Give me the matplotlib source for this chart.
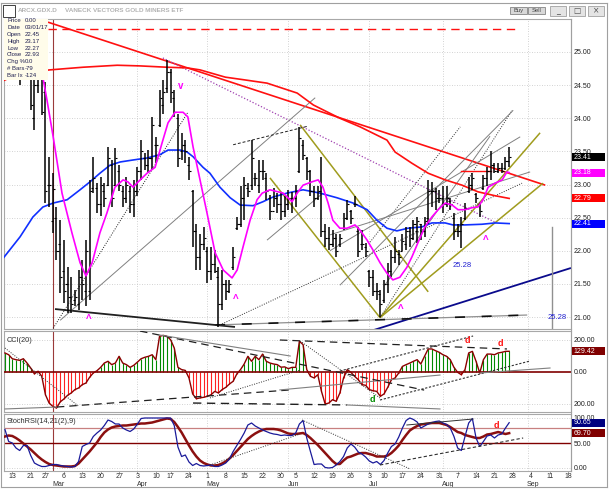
import numpy as np
import pandas as pd
import matplotlib
matplotlib.use('Agg')
import matplotlib.pyplot as plt
from matplotlib.patches import Rectangle
import matplotlib.transforms as mtransforms

plt.rcParams['font.family'] = ['Liberation Sans', 'DejaVu Sans']

# ---------------- data ----------------
holidays = ['2017-02-20', '2017-04-14', '2017-05-29', '2017-07-04']
first_bar = '2017-02-09'
last_bar = '2017-08-25'
axis_last = '2017-09-22'
ref_day = '2017-02-13'

high = [25.10, 25.20, 25.05, 24.95, 24.75, 24.90, 25.00, 24.85, 24.60, 24.80,
        24.90, 24.55, 23.42, 23.17, 22.66, 22.46, 22.16, 21.76, 21.61, 21.41,
        21.71, 21.86, 22.16, 23.07, 23.42, 23.02, 23.12, 23.02, 23.57, 23.37,
        23.55, 23.30, 22.97, 23.12, 22.97, 23.07, 23.27, 23.67, 23.47, 23.52,
        24.02, 23.72, 24.43, 24.58, 24.88, 24.75, 24.43, 24.07, 23.77, 23.67,
        23.42, 22.92, 22.41, 22.26, 22.36, 22.06, 22.06, 22.01, 21.76, 21.71,
        21.56, 21.56, 22.06, 22.51, 22.97, 23.12, 23.02, 23.67, 23.17, 23.37,
        23.37, 23.17, 22.84, 22.95, 22.87, 22.89, 22.82, 22.92, 22.89, 22.99,
        23.87, 23.67, 23.42, 23.22, 22.97, 22.97, 23.42, 22.41, 22.36, 22.31,
        22.26, 22.26, 22.57, 22.77, 22.62, 22.82, 22.36, 22.31, 22.11, 21.71,
        21.71, 21.51, 21.41, 21.56, 21.82, 22.01, 22.21, 22.01, 22.25, 22.36,
        22.36, 22.46, 22.51, 22.41, 22.51, 23.07, 23.04, 22.95, 22.92, 22.97,
        22.97, 22.80, 22.57, 22.41, 22.51, 22.72, 23.12, 23.17, 22.87, 22.72,
        23.14, 23.27, 23.50, 23.32, 23.32, 23.32, 23.42, 23.57]
low = [24.70, 24.75, 24.65, 24.65, 24.50, 24.62, 24.65, 24.12, 23.82, 24.38,
       24.05, 22.72, 22.66, 22.27, 21.86, 21.36, 21.21, 21.06, 21.06, 21.16,
       21.11, 21.26, 21.16, 21.26, 22.87, 22.57, 22.52, 22.66, 22.97, 22.66,
       22.97, 22.90, 22.66, 22.72, 22.57, 22.51, 22.82, 23.07, 23.22, 23.17,
       23.22, 23.32, 23.87, 24.07, 24.38, 24.23, 24.02, 23.27, 23.37, 23.32,
       23.07, 22.06, 21.71, 21.71, 22.01, 21.51, 21.56, 21.66, 20.85, 21.11,
       21.26, 21.36, 21.71, 22.31, 22.36, 22.46, 22.81, 22.92, 22.97, 22.87,
       23.07, 22.77, 22.46, 22.66, 22.57, 22.46, 22.51, 22.62, 22.57, 22.66,
       23.17, 23.37, 23.07, 22.82, 22.66, 22.77, 22.21, 22.06, 22.01, 22.06,
       21.91, 22.06, 22.31, 22.46, 22.41, 22.66, 21.91, 22.01, 21.91, 21.46,
       21.31, 21.26, 21.00, 21.21, 21.36, 21.61, 21.82, 21.78, 22.00, 22.01,
       22.06, 22.16, 22.11, 22.16, 22.21, 22.41, 22.66, 22.62, 22.72, 22.57,
       22.66, 22.62, 22.16, 22.21, 22.04, 22.46, 22.87, 22.92, 22.72, 22.51,
       22.92, 22.97, 23.07, 23.17, 23.17, 23.17, 23.22, 23.27]
opens = [24.80, 24.95, 24.85, 24.70, 24.70, 24.65, 24.85, 24.70, 24.00, 24.50,
         24.70, 24.40, 23.00, 22.45, 22.50, 22.10, 21.70, 21.50, 21.30, 21.25,
         21.20, 21.60, 21.40, 21.40, 22.95, 22.95, 22.70, 22.90, 23.00, 23.30,
         23.00, 23.20, 22.90, 22.80, 22.90, 22.70, 22.90, 23.20, 23.40, 23.30,
         23.40, 23.60, 23.90, 24.20, 24.45, 24.70, 24.30, 24.00, 23.50, 23.60,
         23.30, 22.90, 22.30, 21.90, 22.10, 22.00, 21.70, 21.80, 21.60, 21.20,
         21.50, 21.40, 21.75, 22.35, 22.40, 22.80, 22.95, 23.00, 23.10, 23.00,
         23.20, 23.10, 22.80, 22.60, 22.80, 22.70, 22.60, 22.70, 22.80, 22.80,
         23.20, 23.60, 23.40, 23.20, 22.90, 22.80, 22.90, 22.30, 22.20, 22.10,
         22.20, 22.10, 22.35, 22.50, 22.60, 22.70, 22.30, 22.10, 22.05, 21.70,
         21.60, 21.40, 21.35, 21.25, 21.50, 21.70, 21.90, 21.95, 22.00, 22.10,
         22.30, 22.20, 22.30, 22.40, 22.30, 22.50, 22.90, 22.90, 22.80, 22.80,
         22.70, 22.75, 22.50, 22.30, 22.30, 22.50, 22.90, 23.00, 22.85, 22.70,
         22.95, 23.10, 23.20, 23.30, 23.20, 23.25, 23.25, 23.35]
close = [24.95, 24.85, 24.70, 24.80, 24.60, 24.85, 24.70, 24.20, 24.50, 24.65,
         24.10, 22.90, 23.00, 22.93, 22.00, 21.60, 21.40, 21.30, 21.20, 21.30,
         21.60, 21.50, 22.00, 22.90, 23.10, 22.70, 23.00, 22.80, 23.40, 22.80,
         23.40, 23.00, 22.80, 23.00, 22.70, 22.90, 23.20, 23.50, 23.30, 23.40,
         23.90, 23.60, 24.30, 24.40, 24.70, 24.40, 24.10, 23.40, 23.60, 23.50,
         23.20, 22.30, 21.90, 22.10, 22.20, 21.70, 21.80, 21.70, 21.20, 21.50,
         21.40, 21.50, 21.90, 22.40, 22.80, 23.00, 22.90, 23.40, 23.10, 23.20,
         23.20, 22.90, 22.60, 22.80, 22.70, 22.60, 22.70, 22.80, 22.80, 22.90,
         23.70, 23.45, 23.20, 22.90, 22.80, 22.90, 22.30, 22.20, 22.10, 22.20,
         22.00, 22.20, 22.50, 22.70, 22.50, 22.70, 22.00, 22.10, 22.00, 21.60,
         21.40, 21.40, 21.20, 21.50, 21.70, 21.90, 22.00, 21.90, 22.15, 22.30,
         22.20, 22.40, 22.45, 22.30, 22.45, 22.90, 22.90, 22.80, 22.80, 22.70,
         22.80, 22.70, 22.30, 22.30, 22.40, 22.65, 23.00, 23.10, 22.80, 22.60,
         23.10, 23.20, 23.30, 23.20, 23.25, 23.20, 23.35, 23.41]

cci = [119, 108, 83, 77, 73, 83, 56, 25, -12, 5,
       -27, -142, -194, -215, -225, -187, -169, -146, -131, -110,
       -100, -79, -69, -33, -6, 8, 29, 56, 67, 46,
       56, 98, 56, 46, 29, 42, 62, 83, 92, 98,
       108, 77, 223, 229, 223, 202, 150, 29, 15, 10,
       -37, -137, -167, -162, -158, -152, -142, -121, -131, -110,
       -96, -75, -58, -12, 15, 50, 98, 67, 98, 77,
       112, 67, 56, 50, 46, 30, 32, 21, 29, 29,
       192, 171, 15, -27, -37, -17, -121, -200, -194, -173,
       -183, -131, -37, 15, -2, -27, -48, -79, -83, -110,
       -117, -121, -152, -137, -96, -48, -37, -6, 35, 46,
       56, 67, 77, 50, 98, 144, 144, 133, 123, 108,
       98, 77, 29, -2, -17, 15, 119, 129, 67, -6,
       77, 112, 112, 108, 119, 123, 129, 129.42]

stoch_fast = [77, 53, 50, 40, 35, 45, 45, 25, 10, 6,
              3, 3, 5, 7, 7, 5, 4, 3, 2, 3,
              13, 43, 47, 50, 63, 70, 76, 85, 96, 93,
              88, 88, 80, 76, 73, 78, 88, 99, 100, 100,
              100, 100, 100, 100, 100, 100, 85, 42, 23, 26,
              12, 5, 9, 5, 4, 5, 6, 3, 3, 6,
              10, 18, 33, 45, 57, 70, 86, 90, 84, 80,
              76, 73, 70, 68, 67, 65, 66, 65, 65, 70,
              88, 95, 60, 33, 7, 8, 8, 1, 0, 1,
              6, 13, 23, 40, 48, 42, 32, 28, 22, 14,
              10, 13, 7, 15, 30, 43, 48, 62, 80, 95,
              100, 97, 92, 80, 84, 88, 91, 93, 94, 90,
              87, 80, 63, 40, 35, 63, 90, 99, 60, 43,
              53, 64, 66, 60, 66, 68, 80, 90.65]

stoch_slow = [63, 65, 64, 60, 55, 49, 43, 37, 30, 23,
              17, 12, 8, 6, 5, 4, 3, 3, 3, 4,
              9, 17, 25, 33, 42, 51, 62, 71, 77, 81,
              83, 84, 85, 85, 86, 87, 88, 89, 89, 90,
              91, 93, 95, 97, 99, 98, 92, 82, 71, 58,
              45, 33, 23, 15, 10, 7, 5, 5, 6, 9,
              13, 19, 26, 34, 42, 50, 58, 64, 69, 73,
              76, 78, 78, 78, 77, 75, 72, 69, 68, 68,
              69, 70, 66, 60, 53, 46, 38, 30, 22, 14,
              8, 8, 15, 21, 23, 26, 29, 30, 30, 28,
              26, 23, 23, 23, 25, 30, 37, 45, 56, 66,
              75, 80, 84, 87, 88, 89, 90, 90, 90, 88,
              86, 82, 77, 72, 70, 66, 64, 62, 60, 60,
              63, 67, 68, 70, 72, 70, 68, 69.70]

# moving averages (trading-day index, price)
pink_idx = [8.3, 9.4, 11.1, 13.5, 16.2, 18.4, 20.0, 21.7, 23.8, 25.7, 27.9, 30.1, 31.4,
            32.8, 34.2, 36.6, 38.8, 40.7, 42.3, 44.2, 46.4, 47.7, 49.1, 51.0, 52.9,
            55.1, 57.3, 59.7, 61.1, 62.7, 64.6, 66.5, 67.9, 70.0, 73.6, 76.0, 77.4,
            79.0, 81.4, 83.1, 84.4, 85.8, 87.1, 89.0, 90.9, 93.1, 94.5, 96.4, 98.0,
            99.9, 101.8, 103.4, 105.3, 107.2, 108.6, 110.2, 112.1, 114.0, 115.7,
            117.6, 119.5, 121.1, 123.0, 124.9, 126.5, 127.9, 129.3, 131.2, 133.1,
            134.4, 135.0]
pink_val = [24.62, 24.28, 23.72, 22.87, 22.27, 21.82, 21.62, 21.82, 22.27, 22.57, 22.96,
            23.07, 23.04, 22.96, 23.04, 23.17, 23.26, 23.63, 23.93, 24.09, 24.09, 24.02,
            23.57, 23.07, 22.57, 21.97, 21.71, 21.59, 21.71, 22.06, 22.46, 22.77, 22.87,
            22.92, 22.87, 22.74, 22.87, 22.99, 23.04, 23.07, 22.96, 22.72, 22.46, 22.34,
            22.34, 22.39, 22.31, 22.16, 22.01, 21.82, 21.66, 21.56, 21.60, 21.75, 21.91,
            22.12, 22.36, 22.51, 22.62, 22.72, 22.69, 22.62, 22.62, 22.65, 22.66, 22.77,
            22.96, 23.02, 23.07, 23.19, 23.18]
blue_idx = [-2.3, 2.1, 5.6, 8.3, 11.1, 14.9, 18.4, 21.1, 23.8, 26.5, 29.3, 32.8, 36.6,
            40.1, 42.3, 45.6, 47.5, 49.1, 51.8, 53.7, 56.4, 59.2, 61.9, 65.4, 68.1,
            70.8, 74.6, 79.0, 83.6, 88.2, 92.6, 96.4, 99.1, 101.8, 104.5, 107.5,
            111.3, 114.0, 117.6, 119.7, 123.0, 127.6, 131.2, 135.0]
blue_val = [21.90, 22.21, 22.51, 22.66, 22.72, 22.77, 22.92, 23.04, 23.17, 23.29, 23.34,
            23.37, 23.40, 23.45, 23.52, 23.52, 23.49, 23.42, 23.26, 23.17, 22.96, 22.80,
            22.69, 22.68, 22.74, 22.81, 22.87, 22.92, 22.87, 22.80, 22.72, 22.62, 22.46,
            22.34, 22.30, 22.34, 22.36, 22.42, 22.42, 22.39, 22.39, 22.40, 22.42, 22.41]
red_idx = [-2.3, 2.1, 10.2, 19.2, 28.5, 34.7, 42.0, 47.5, 51.0, 57.9, 63.0, 69.2, 77.4,
           81.8, 89.0, 94.5, 101.8, 104.0, 108.6, 113.0, 117.6, 122.2, 126.5, 131.2, 135.0]
red_val = [24.57, 24.68, 24.73, 24.77, 24.80, 24.79, 24.77, 24.76, 24.73, 24.62, 24.58,
           24.53, 24.38, 24.20, 24.00, 23.87, 23.67, 23.49, 23.32, 23.17, 23.07, 22.99,
           22.89, 22.83, 22.79]

last_vals = {'close': 23.41, 'pink': 23.18, 'red': 22.79, 'blue': 22.41,
             'cci': 129.42, 'fast': 90.65, 'slow': 69.70}

# ---------------- dates / x positions ----------------
past = pd.bdate_range(first_bar, last_bar, freq='C', holidays=holidays)
future = pd.bdate_range(pd.Timestamp(last_bar) + pd.Timedelta(days=1), axis_last)
days = past.append(future)
off = list(days).index(pd.Timestamp(ref_day))
xall = np.arange(len(days)) - off
xb = xall[:len(past)]

W, H = 613, 496
fig = plt.figure(figsize=(W / 100, H / 100), dpi=100)
fig.patch.set_facecolor('white')


def px_axes(x0, y0, x1, y1):
    return fig.add_axes([x0 / W, 1 - y1 / H, (x1 - x0) / W, (y1 - y0) / H])


ax = px_axes(4, 19, 571, 329)
axc = px_axes(4, 331, 571, 412)
axs = px_axes(4, 414, 571, 471)

XL = (-2.26, 151.8)
for a in (ax, axc, axs):
    a.set_xlim(*XL)
    a.set_facecolor('white')
    for s in a.spines.values():
        s.set_color('#A8A8A8')
        s.set_linewidth(0.8)
    a.tick_params(axis='x', which='both', bottom=False, labelbottom=False)
    a.yaxis.tick_right()
    a.tick_params(axis='y', length=0, pad=2, labelsize=5, colors='#202020')

ax.set_ylim(20.819, 25.498)
axc.set_ylim(-250, 256.25)
axs.set_ylim(-6, 108)

grid_kw = dict(color='#C4C4C4', lw=0.6, linestyle=(0, (1, 2)), zorder=0)
# month starts
month_starts = []
for k in range(1, len(days)):
    if days[k].month != days[k - 1].month:
        month_starts.append(k)
for k in month_starts:
    xm = xall[k]
    for a in (ax, axc, axs):
        if days[k].month == 3:
            a.axvline(xm, color='#9A3A3A', lw=0.8, zorder=1)
        else:
            a.axvline(xm, **grid_kw)

price_ticks = np.arange(21.0, 25.01, 0.5)
for p in price_ticks:
    ax.axhline(p, **grid_kw)
ax.set_yticks(price_ticks)
ax.set_yticklabels([f'{p:.2f}' for p in price_ticks])

# ---------------- trend lines on price panel ----------------
olive = '#A09C1E'
main_lines = [
    ((9.7, 25.45), (144.8, 22.99), '#FF1010', 1.2, '-'),
    ((9.7, 25.35), (136.6, 25.35), '#FF1010', 1.0, (0, (6, 4))),
    ((40.9, 24.91), (131.2, 22.43), '#A040B0', 0.9, (0, (1, 1.5))),
    ((78.2, 23.90), (113.0, 21.38), olive, 1.1, '-'),
    ((70.0, 23.10), (99.9, 20.99), olive, 1.1, '-'),
    ((99.9, 20.99), (143.4, 23.78), olive, 1.1, '-'),
    ((99.9, 20.99), (144.2, 23.02), olive, 1.1, '-'),
    ((98.0, 20.80), (151.8, 21.74), '#0A0A8C', 1.3, '-'),
    ((11.6, 21.12), (60.5, 20.85), '#202020', 1.3, '-'),
    ((55.1, 20.88), (139.9, 21.03), '#909090', 0.9, '-'),
    ((55.1, 20.88), (139.9, 21.03), '#101010', 1.2, (0, (6, 10))),
    ((11.1, 20.83), (47.7, 24.09), '#202020', 0.7, (0, (1, 1.5))),
    ((13.0, 20.95), (82.3, 24.31), '#808080', 0.7, '-'),
    ((60.0, 23.60), (80.3, 23.88), '#202020', 0.7, (0, (3, 2))),
    ((69.2, 22.16), (84.4, 22.87), '#808080', 0.7, '-'),
    ((56.4, 20.88), (138.5, 23.02), '#303030', 0.7, (0, (1, 1.5))),
    ((99.9, 20.99), (135.8, 24.12), '#303030', 0.7, (0, (1, 1.5))),
    ((89.0, 21.48), (136.1, 24.12), '#808080', 0.7, '-'),
    ((97.2, 22.13), (121.7, 23.87), '#303030', 0.7, (0, (1, 1.5))),
    ((101.2, 21.48), (129.8, 23.73), '#808080', 0.7, '-'),
    ((86.3, 22.00), (138.0, 23.72), '#808080', 0.7, '-'),
    ((86.3, 22.24), (140.7, 23.19), '#808080', 0.7, '-'),
]
for (x0, y0), (x1, y1), c, lw, ls in main_lines:
    ax.plot([x0, x1], [y0, y1], color=c, lw=lw, linestyle=ls, zorder=2,
            solid_capstyle='butt')

# short red horizontal
ax.plot([122.0, 130.0], [23.2, 23.2], color='#FF1010', lw=1.0, zorder=2)
# gray vertical marker
ax.plot([146.6, 146.6], [22.36, 20.819], color='#909090', lw=1.0, zorder=2)

# ---------------- moving averages ----------------
ax.plot(red_idx, red_val, color='#FF1010', lw=1.2, zorder=3)
ax.plot(blue_idx, blue_val, color='#1030FF', lw=1.2, zorder=3)

# ---------------- OHLC bars ----------------
ax.vlines(xb, low, high, color='black', lw=1.1, zorder=4)
ax.hlines(opens, xb - 0.55, xb, color='black', lw=0.8, zorder=4)
ax.hlines(close, xb, xb + 0.55, color='black', lw=0.8, zorder=4)

ax.plot(pink_idx, pink_val, color='#FF00FF', lw=1.2, zorder=5)

# annotations
for xi, yp in [(20.9, 21.0), (60.8, 21.30), (105.6, 21.15), (128.7, 22.19)]:
    ax.text(xi, yp, 'Λ', color='#FF00FF', fontsize=6, fontweight='bold',
            ha='center', va='center', zorder=6)
ax.text(45.8, 24.49, 'v', color='#FF00FF', fontsize=7, fontweight='bold',
        ha='center', va='center', zorder=6)
ax.text(122.2, 21.77, '25.28', color='#2020D0', fontsize=5.5, ha='center',
        va='center', zorder=6)
ax.text(148.0, 21.0, '25.28', color='#2020D0', fontsize=5.5, ha='center',
        va='center', zorder=6)

# ---------------- CCI panel ----------------
cci_arr = np.array(cci, dtype=float)
pos = cci_arr >= 0
axc.vlines(xb[pos], 0, cci_arr[pos], color='#008A00', lw=0.8, zorder=2)
axc.vlines(xb[~pos], 0, cci_arr[~pos], color='#FF2020', lw=0.8, zorder=2)
axc.axhline(0, color='#800000', lw=1.2, zorder=3)
axc.plot(xb, cci_arr, color='#8B0000', lw=1.0, zorder=4)
for v in (200, -200):
    axc.axhline(v, **grid_kw)
axc.set_yticks([200, 0, -200])
axc.set_yticklabels(['200.00', '0.00', '200.00'])

cci_lines = [
    ((-2.0, 150), (17.9, -212), '#303030', 0.7, (0, (1, 1.5))),
    ((-2.0, -231), (12.1, -219), '#808080', 0.8, '-'),
    ((12.1, -219), (75.5, -112), '#202020', 0.9, (0, (6, 4))),
    ((72.7, -112), (116.2, -19), '#808080', 0.8, '-'),
    ((34.7, 256), (111.9, -113), '#202020', 0.9, (0, (6, 4))),
    ((40.1, 231), (75.5, 100), '#808080', 0.8, '-'),
    ((49.1, -194), (90.9, -206), '#202020', 1.0, (0, (6, 4))),
    ((90.9, -206), (116.2, -231), '#808080', 0.8, '-'),
    ((53.7, -162), (78.2, 12), '#303030', 0.7, (0, (1, 1.5))),
    ((72.7, 200), (134.4, 144), '#202020', 0.9, (0, (6, 4))),
    ((78.2, 194), (99.9, -162), '#303030', 0.7, (0, (1, 1.5))),
    ((89.0, 6), (125.2, 225), '#303030', 0.8, (0, (2, 1.5))),
    ((99.9, -175), (140.7, 69), '#303030', 0.8, (0, (2, 1.5))),
    ((127.1, -6), (146.1, 25), '#808080', 0.8, '-'),
]
for (x0, y0), (x1, y1), c, lw, ls in cci_lines:
    axc.plot([x0, x1], [y0, y1], color=c, lw=lw, linestyle=ls, zorder=5)

axc.text(123.6, 194, 'd', color='#FF1010', fontsize=6.5, fontweight='bold',
         ha='center', va='center', zorder=6)
axc.text(132.5, 175, 'd', color='#FF1010', fontsize=6.5, fontweight='bold',
         ha='center', va='center', zorder=6)
axc.text(97.7, -175, 'd', color='#008A00', fontsize=6.5, fontweight='bold',
         ha='center', va='center', zorder=6)
axc.text(0.005, 0.93, 'CCI(20)', transform=axc.transAxes, fontsize=5.3,
         color='#303030', ha='left', va='top')

# ---------------- StochRSI panel ----------------
axs.axhline(80, color='#C88080', lw=0.9, zorder=1)
axs.axhline(50, color='#800000', lw=1.0, zorder=1)
for v in (100, 0):
    axs.axhline(v, **grid_kw)
axs.plot(xb, stoch_slow, color='#8B1010', lw=1.8, zorder=3)
axs.plot(xb, stoch_fast, color='#1A1A9A', lw=0.9, zorder=4)
axs.set_yticks([100, 50, 0])
axs.set_yticklabels(['100.00', '50.00', '0.00'])

st_lines = [
    ((78.7, 96), (108.1, -2), '#303030', 0.7, (0, (1, 1.5))),
    ((99.9, 6), (138.8, 60), '#303030', 0.8, (0, (3, 2))),
    ((107.2, 86), (125.2, 98), '#303030', 0.7, '-'),
    ((53.7, 6), (78.2, 68), '#303030', 0.7, (0, (1, 1.5))),
]
for (x0, y0), (x1, y1), c, lw, ls in st_lines:
    axs.plot([x0, x1], [y0, y1], color=c, lw=lw, linestyle=ls, zorder=5)
axs.text(131.4, 86, 'd', color='#FF1010', fontsize=6.5, fontweight='bold',
         ha='center', va='center', zorder=6)
axs.text(0.005, 0.93, 'StochRSI(14,21(2),9)', transform=axs.transAxes,
         fontsize=5.3, color='#303030', ha='left', va='top')

# ---------------- date axis ----------------
week_pos, week_lab = [], []
for k in range(len(days)):
    if k == 0 or days[k].isocalendar()[1] != days[k - 1].isocalendar()[1]:
        if xall[k] >= XL[0] + 1:
            week_pos.append(xall[k])
            week_lab.append(str(days[k].day))
bt = mtransforms.blended_transform_factory(axs.transData, fig.transFigure)
for xp, lab in zip(week_pos, week_lab):
    axs.text(xp, 1 - 476 / H, lab, transform=bt, fontsize=5, color='#303030',
             ha='center', va='center', clip_on=False)
    axs.plot([xp, xp], [1 - 471 / H, 1 - 473 / H], transform=bt,
             color='#909090', lw=0.6, clip_on=False)
for k in month_starts:
    axs.text(xall[k] - 0.2, 1 - 484 / H, days[k].strftime('%b'), transform=bt,
             fontsize=5, color='#303030', ha='left', va='center', clip_on=False)


# ---------------- value boxes on the right ----------------
def value_box(a, val, text, fc):
    yd = a.transData.transform((0, val))[1]
    fig.add_artist(Rectangle((571.5 / W, (yd - 4.0) / H), 33 / W, 8.0 / H,
                             transform=fig.transFigure, facecolor=fc,
                             edgecolor='none', zorder=5))
    fig.text(573.5 / W, yd / H, text, color='white', fontsize=5.0,
             ha='left', va='center', zorder=6)


value_box(ax, last_vals['close'], '23.41', '#000000')
value_box(ax, last_vals['pink'], '23.18', '#FF00FF')
value_box(ax, last_vals['red'], '22.79', '#FF0000')
value_box(ax, last_vals['blue'], '22.41', '#0000FF')
value_box(axc, last_vals['cci'], '129.42', '#800000')
value_box(axs, last_vals['fast'], '90.65', '#000080')
value_box(axs, last_vals['slow'], '69.70', '#800000')

# ---------------- legend box ----------------
fig.add_artist(Rectangle((4 / W, 1 - 80 / H), 44 / W, 61 / H,
                         transform=fig.transFigure, facecolor='#FFFCEA',
                         edgecolor='none', zorder=7))
leg_lab = ['Price', 'Date', 'Open', 'High', 'Low', 'Close', 'Chg %', '# Bars', 'Bar Ix']
leg_val = ['0.00', '03/01/17', '22.45', '23.17', '22.27', '22.93', '0.0', '-79', '-124']
for n, (l, v) in enumerate(zip(leg_lab, leg_val)):
    yy = 1 - (21 + 6.8 * n) / H
    fig.text(7 / W, yy, l, fontsize=4.3, color='#202050', ha='left',
             va='center', zorder=8)
    fig.text(25 / W, yy, v, fontsize=4.3, color='#202050', ha='left',
             va='center', zorder=8)

# ---------------- window chrome ----------------
fig.add_artist(Rectangle((3 / W, 1 - 17 / H), 12 / W, 12 / H,
                         transform=fig.transFigure, facecolor='white',
                         edgecolor='#404040', lw=0.7, zorder=8))
for k, (hh, ll) in enumerate([(8, 14), (9, 15), (7, 12)]):
    xx = (6 + 3 * k) / W
    fig.add_artist(plt.Line2D([xx, xx], [1 - ll / H, 1 - hh / H],
                              transform=fig.transFigure, color='#202020', lw=0.8))
fig.text(18 / W, 1 - 10 / H, 'ARCX.GDX.D', fontsize=4.6, color='#B4B4B4',
         fontweight='bold', ha='left', va='center')
fig.text(65 / W, 1 - 10 / H, 'VANECK VECTORS GOLD MINERS ETF', fontsize=4.6,
         color='#B4B4B4', fontweight='bold', ha='left', va='center')
for (bx, bw, lab) in [(510, 17, 'Buy'), (528, 17, 'Sell')]:
    fig.add_artist(Rectangle((bx / W, 1 - 14 / H), bw / W, 7 / H,
                             transform=fig.transFigure, facecolor='#D8D8D8',
                             edgecolor='#707070', lw=0.5))
    fig.text((bx + bw / 2) / W, 1 - 10.5 / H, lab, fontsize=4.2, color='#404040',
             ha='center', va='center')
for (bx, sym) in [(550, '_'), (569, '□'), (588, '×')]:
    fig.add_artist(Rectangle((bx / W, 1 - 16 / H), 16 / W, 10 / H,
                             transform=fig.transFigure, facecolor='#E4E4E4',
                             edgecolor='#909090', lw=0.5))
    fig.text((bx + 8) / W, 1 - 11 / H, sym, fontsize=5.5, color='#505050',
             ha='center', va='center', family=['DejaVu Sans'])

for (x0, y0, x1, y1) in [(1, 3, 607, 3), (607, 3, 607, 487), (1, 487, 607, 487),
                         (1, 3, 1, 487), (571, 19, 571, 471)]:
    fig.add_artist(plt.Line2D([x0 / W, x1 / W], [1 - y0 / H, 1 - y1 / H],
                              transform=fig.transFigure, color='#A0A0A0', lw=0.8))

fig.savefig('out.png', dpi=100, facecolor='white')
